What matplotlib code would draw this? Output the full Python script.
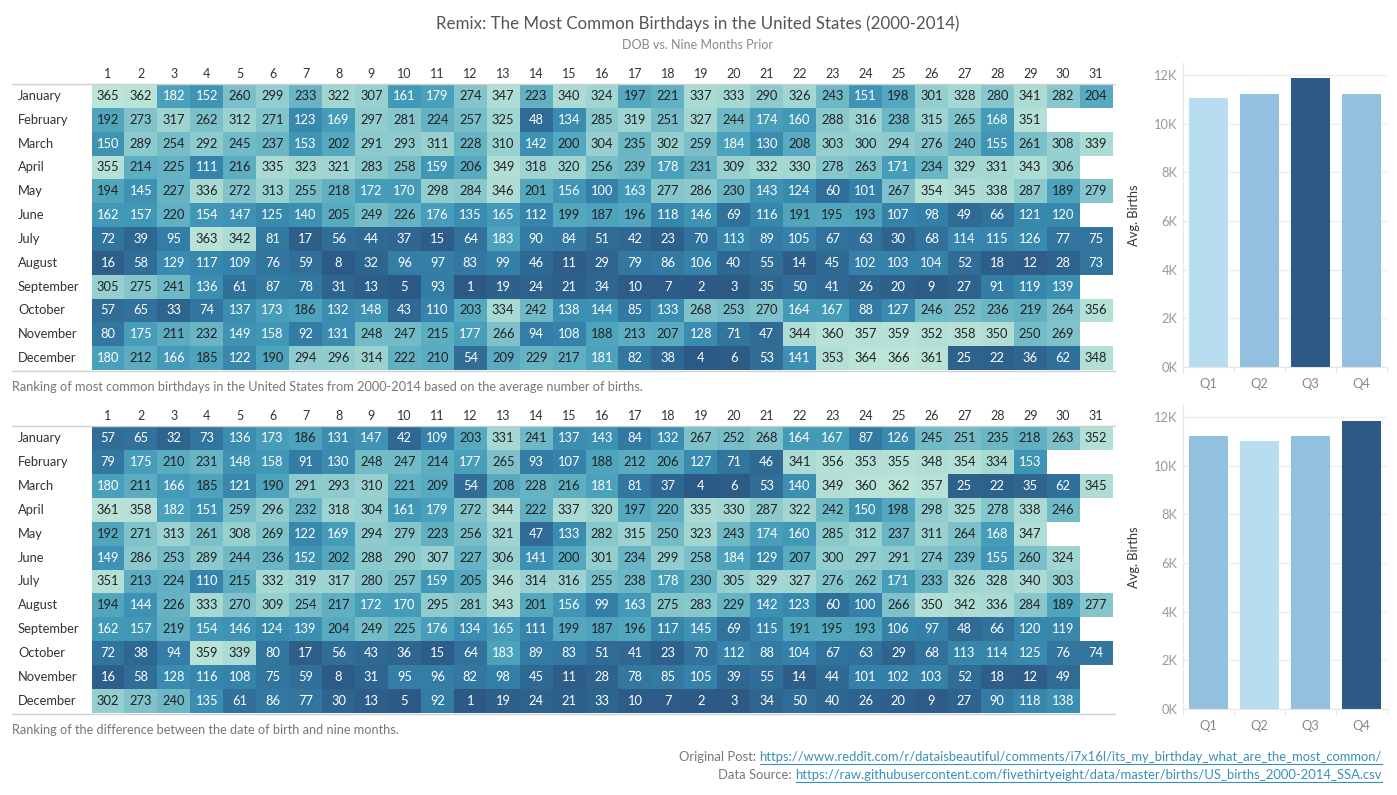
import numpy as np
import matplotlib
matplotlib.use("Agg")
import matplotlib.pyplot as plt
from matplotlib.colors import LinearSegmentedColormap
from matplotlib.lines import Line2D
from matplotlib.transforms import blended_transform_factory

plt.rcParams['font.family'] = ['Lato', 'DejaVu Sans']

# --- data ---
months = ["January", "February", "March", "April", "May", "June", "July",
          "August", "September", "October", "November", "December"]
days = list(range(1, 32))

rank_dob = [
    [365, 362, 182, 152, 260, 299, 233, 322, 307, 161, 179, 274, 347, 223, 340, 324, 197, 221, 337, 333, 290, 326, 243, 151, 198, 301, 328, 280, 341, 282, 204],
    [192, 273, 317, 262, 312, 271, 123, 169, 297, 281, 224, 257, 325, 48, 134, 285, 319, 251, 327, 244, 174, 160, 288, 316, 238, 315, 265, 168, 351],
    [150, 289, 254, 292, 245, 237, 153, 202, 291, 293, 311, 228, 310, 142, 200, 304, 235, 302, 259, 184, 130, 208, 303, 300, 294, 276, 240, 155, 261, 308, 339],
    [355, 214, 225, 111, 216, 335, 323, 321, 283, 258, 159, 206, 349, 318, 320, 256, 239, 178, 231, 309, 332, 330, 278, 263, 171, 234, 329, 331, 343, 306],
    [194, 145, 227, 336, 272, 313, 255, 218, 172, 170, 298, 284, 346, 201, 156, 100, 163, 277, 286, 230, 143, 124, 60, 101, 267, 354, 345, 338, 287, 189, 279],
    [162, 157, 220, 154, 147, 125, 140, 205, 249, 226, 176, 135, 165, 112, 199, 187, 196, 118, 146, 69, 116, 191, 195, 193, 107, 98, 49, 66, 121, 120],
    [72, 39, 95, 363, 342, 81, 17, 56, 44, 37, 15, 64, 183, 90, 84, 51, 42, 23, 70, 113, 89, 105, 67, 63, 30, 68, 114, 115, 126, 77, 75],
    [16, 58, 129, 117, 109, 76, 59, 8, 32, 96, 97, 83, 99, 46, 11, 29, 79, 86, 106, 40, 55, 14, 45, 102, 103, 104, 52, 18, 12, 28, 73],
    [305, 275, 241, 136, 61, 87, 78, 31, 13, 5, 93, 1, 19, 24, 21, 34, 10, 7, 2, 3, 35, 50, 41, 26, 20, 9, 27, 91, 119, 139],
    [57, 65, 33, 74, 137, 173, 186, 132, 148, 43, 110, 203, 334, 242, 138, 144, 85, 133, 268, 253, 270, 164, 167, 88, 127, 246, 252, 236, 219, 264, 356],
    [80, 175, 211, 232, 149, 158, 92, 131, 248, 247, 215, 177, 266, 94, 108, 188, 213, 207, 128, 71, 47, 344, 360, 357, 359, 352, 358, 350, 250, 269],
    [180, 212, 166, 185, 122, 190, 294, 296, 314, 222, 210, 54, 209, 229, 217, 181, 82, 38, 4, 6, 53, 141, 353, 364, 366, 361, 25, 22, 36, 62, 348],
]

rank_diff = [
    [57, 65, 32, 73, 136, 173, 186, 131, 147, 42, 109, 203, 331, 241, 137, 143, 84, 132, 267, 252, 268, 164, 167, 87, 126, 245, 251, 235, 218, 263, 352],
    [79, 175, 210, 231, 148, 158, 91, 130, 248, 247, 214, 177, 265, 93, 107, 188, 212, 206, 127, 71, 46, 341, 356, 353, 355, 348, 354, 334, 153],
    [180, 211, 166, 185, 121, 190, 291, 293, 310, 221, 209, 54, 208, 228, 216, 181, 81, 37, 4, 6, 53, 140, 349, 360, 362, 357, 25, 22, 35, 62, 345],
    [361, 358, 182, 151, 259, 296, 232, 318, 304, 161, 179, 272, 344, 222, 337, 320, 197, 220, 335, 330, 287, 322, 242, 150, 198, 298, 325, 278, 338, 246],
    [192, 271, 313, 261, 308, 269, 122, 169, 294, 279, 223, 256, 321, 47, 133, 282, 315, 250, 323, 243, 174, 160, 285, 312, 237, 311, 264, 168, 347],
    [149, 286, 253, 289, 244, 236, 152, 202, 288, 290, 307, 227, 306, 141, 200, 301, 234, 299, 258, 184, 129, 207, 300, 297, 291, 274, 239, 155, 260, 324],
    [351, 213, 224, 110, 215, 332, 319, 317, 280, 257, 159, 205, 346, 314, 316, 255, 238, 178, 230, 305, 329, 327, 276, 262, 171, 233, 326, 328, 340, 303],
    [194, 144, 226, 333, 270, 309, 254, 217, 172, 170, 295, 281, 343, 201, 156, 99, 163, 275, 283, 229, 142, 123, 60, 100, 266, 350, 342, 336, 284, 189, 277],
    [162, 157, 219, 154, 146, 124, 139, 204, 249, 225, 176, 134, 165, 111, 199, 187, 196, 117, 145, 69, 115, 191, 195, 193, 106, 97, 48, 66, 120, 119],
    [72, 38, 94, 359, 339, 80, 17, 56, 43, 36, 15, 64, 183, 89, 83, 51, 41, 23, 70, 112, 88, 104, 67, 63, 29, 68, 113, 114, 125, 76, 74],
    [16, 58, 128, 116, 108, 75, 59, 8, 31, 95, 96, 82, 98, 45, 11, 28, 78, 85, 105, 39, 55, 14, 44, 101, 102, 103, 52, 18, 12, 49],
    [302, 273, 240, 135, 61, 86, 77, 30, 13, 5, 92, 1, 19, 24, 21, 33, 10, 7, 2, 3, 34, 50, 40, 26, 20, 9, 27, 90, 118, 138],
]

quarters = ["Q1", "Q2", "Q3", "Q4"]
avg_births_dob = [11060, 11220, 11880, 11220]
avg_births_diff = [11210, 11040, 11210, 11860]

caption_dob = "Ranking of most common birthdays in the United States from 2000-2014 based on the average number of births."
caption_diff = "Ranking of the difference between the date of birth and nine months."

# --- figure setup ---
W, H = 1397, 795
fig = plt.figure(figsize=(W / 100, H / 100), dpi=100)


def rect(x0, y0, x1, y1):
    # pixel box (top-left origin) -> figure fraction
    return [x0 / W, 1 - y1 / H, (x1 - x0) / W, (y1 - y0) / H]


blue_teal = ["#bce4d8", "#a6d8d3", "#92cdcf", "#7ec1ca", "#69b5c5", "#54a8bf",
             "#449bb8", "#3a8db1", "#3480a8", "#31729c", "#2e6690", "#2c5985"]
cmap = LinearSegmentedColormap.from_list("bt", blue_teal[::-1])
cmap.set_bad("white")

TXT = "#333333"


def pad_rows(rows):
    arr = np.full((12, 31), np.nan)
    for i, r in enumerate(rows):
        arr[i, :len(r)] = r
    return arr


def heatmap(rows, top, bottom, caption, cap_y):
    data = pad_rows(rows)
    ax = fig.add_axes(rect(91.5, top, 1112.5, bottom))
    ax.pcolormesh(np.ma.masked_invalid(data), cmap=cmap, vmin=1, vmax=366)
    ax.set_xlim(0, 31)
    ax.set_ylim(12, 0)
    for sp in ax.spines.values():
        sp.set_visible(False)
    ax.set_xticks(np.arange(31) + 0.5)
    ax.set_xticklabels([str(d) for d in days], fontsize=9, color=TXT)
    ax.tick_params(axis='x', top=True, labeltop=True, bottom=False, labelbottom=False, length=0, pad=3)
    ax.set_yticks([])
    for i in range(12):
        for j in range(31):
            v = data[i, j]
            if np.isnan(v):
                continue
            c = "white" if v < 185 else "#222222"
            ax.text(j + 0.5, i + 0.5, str(int(v)), ha='center', va='center', fontsize=9.3, color=c)
    trans = blended_transform_factory(fig.transFigure, ax.transData)
    for i, m in enumerate(months):
        ax.text(18 / W, i + 0.5, m, transform=trans, ha='left', va='center', fontsize=9.3, color=TXT)
    for yy in (top, bottom + 1):
        fig.add_artist(Line2D([12 / W, 1115 / W], [1 - yy / H, 1 - yy / H], color="#cfcfcf", lw=1))
    fig.text(12 / W, 1 - cap_y / H, caption, ha='left', va='center', fontsize=9.2, color="#777777")
    return ax


heatmap(rank_dob, 84, 370, caption_dob, 387)
heatmap(rank_diff, 426, 713, caption_diff, 730)

# --- quarter bar charts ---
c_light, c_mid, c_dark = "#b9ddf0", "#94c0df", "#2c5985"


def bar_colors(vals):
    order = np.argsort(vals)
    cols = [c_mid] * len(vals)
    cols[order[0]] = c_light
    cols[order[-1]] = c_dark
    return cols


def bars(vals, top, bottom):
    ax = fig.add_axes(rect(1183, top, 1387, bottom))
    ax.bar(np.arange(4), vals, width=0.75, color=bar_colors(vals), zorder=2)
    ax.set_xlim(-0.5, 3.5)
    ax.set_ylim(0, 12500)
    ax.set_yticks(np.arange(0, 12001, 2000))
    ax.set_yticklabels([f"{int(v / 1000)}K" for v in np.arange(0, 12001, 2000)], fontsize=9.3, color="#999999")
    ax.set_xticks(np.arange(4))
    ax.set_xticklabels(quarters, fontsize=9.3, color="#888888")
    ax.set_xticks(np.arange(-0.5, 4, 1), minor=True)
    ax.tick_params(axis='x', which='major', length=0, pad=8)
    ax.tick_params(axis='x', which='minor', length=4, color="#e0e0e0")
    ax.tick_params(axis='y', length=0, pad=4)
    ax.grid(axis='y', color="#eeeeee", lw=1, zorder=0)
    for k in ("top", "right"):
        ax.spines[k].set_visible(False)
    ax.spines['left'].set_color("#e6e6e6")
    ax.spines['bottom'].set_color("#e6e6e6")
    ax.set_ylabel("Avg. Births", fontsize=9.3, color=TXT, labelpad=10)
    return ax


bars(avg_births_dob, 63, 367)
bars(avg_births_diff, 405, 709)

# --- titles ---
fig.text(698 / W, 1 - 24 / H, "Remix: The Most Common Birthdays in the United States (2000-2014)",
         ha='center', va='center', fontsize=12.2, color="#555555")
fig.text(698 / W, 1 - 45 / H, "DOB vs. Nine Months Prior", ha='center', va='center', fontsize=9, color="#888888")

# --- footer links ---
renderer = fig.canvas.get_renderer()
links = [("Original Post: ", "https://www.reddit.com/r/dataisbeautiful/comments/i7x16l/its_my_birthday_what_are_the_most_common/", 757),
         ("Data Source: ", "https://raw.githubusercontent.com/fivethirtyeight/data/master/births/US_births_2000-2014_SSA.csv", 775)]
for label, url, yy in links:
    t = fig.text(1382 / W, 1 - yy / H, url, ha='right', va='center', fontsize=9.4, color="#3a8fb7")
    bb = t.get_window_extent(renderer)
    fig.text(bb.x0 / W, 1 - yy / H, label, ha='right', va='center', fontsize=9.4, color="#777777")
    uy = (bb.y0 - 0.5) / H
    fig.add_artist(Line2D([bb.x0 / W, bb.x1 / W], [uy, uy], color="#3a8fb7", lw=0.8))

fig.savefig("out.png", dpi=100)
